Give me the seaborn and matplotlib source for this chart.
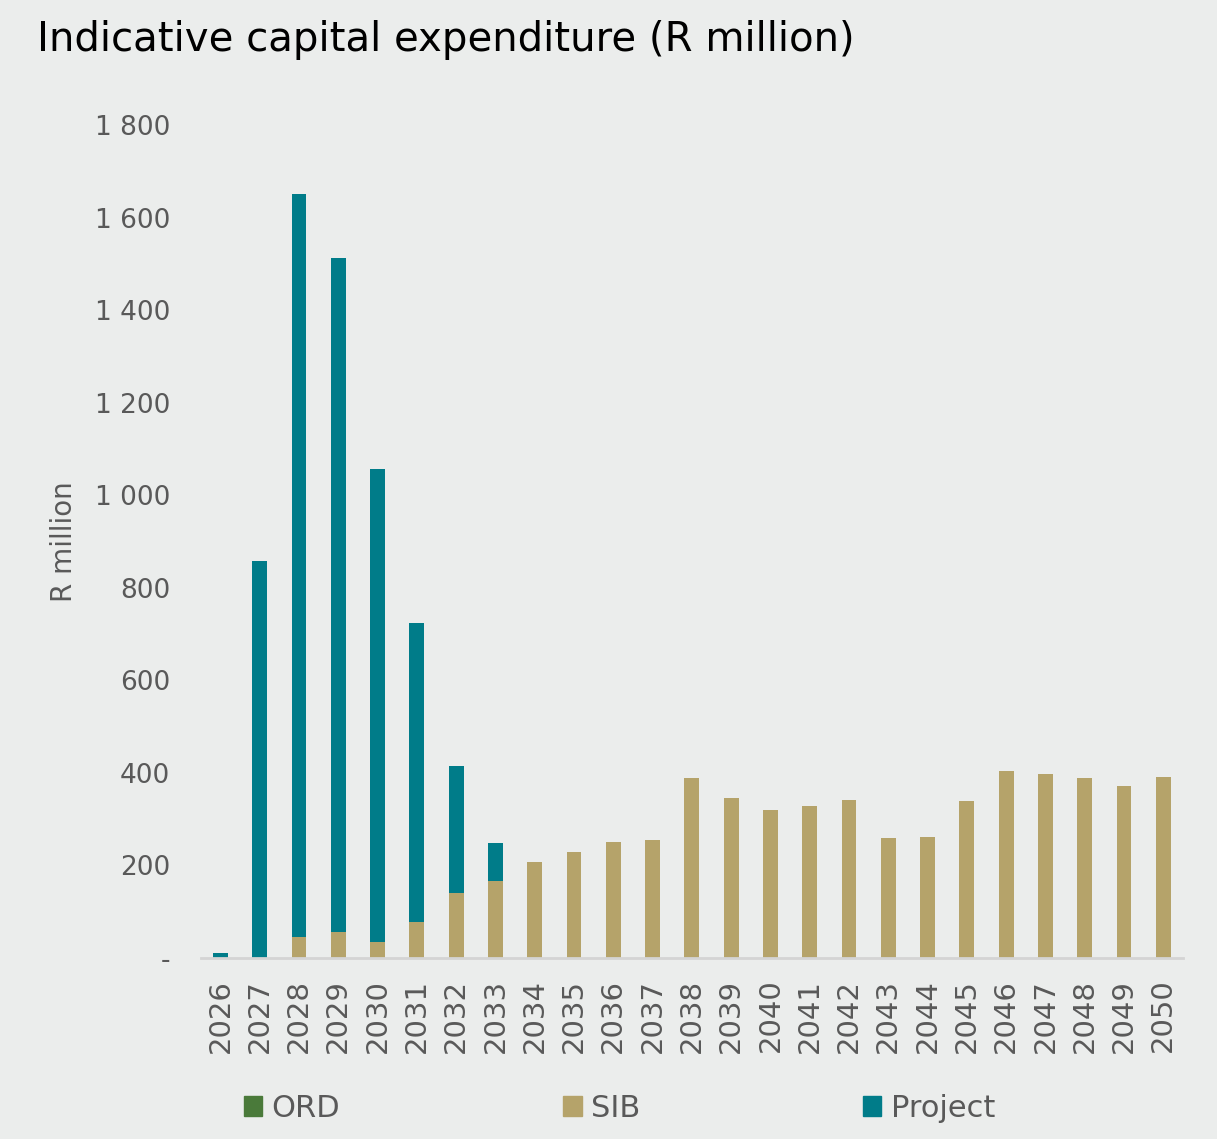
import matplotlib
matplotlib.use("Agg")
import matplotlib.pyplot as plt
import matplotlib.ticker as mticker
from matplotlib.patches import Patch
import numpy as np
import pandas as pd
import seaborn as sns

years = [str(y) for y in range(2026, 2051)]
ord_vals = [0] * 25
sib_vals = [0, 0, 45, 56, 34, 78, 140, 166, 207, 228, 250, 254, 388, 345, 319,
            328, 341, 259, 261, 340, 403, 397, 390, 371, 392]
project_vals = [10, 858, 1606, 1457, 1022, 646, 274, 82, 0, 0, 0, 0, 0, 0, 0,
                0, 0, 0, 0, 0, 0, 0, 0, 0, 0]

BG = "#ebedec"
TEAL = "#007c89"
TAN = "#b5a36a"
GREEN = "#4a7a3a"
GREY = "#595959"

sns.set_theme(style="white")
plt.rcParams["font.family"] = ["DejaVu Sans"]

df = pd.DataFrame({"year": years, "ORD": ord_vals, "SIB": sib_vals, "Project": project_vals})
df["top"] = df["ORD"] + df["SIB"] + df["Project"]
df["mid"] = df["ORD"] + df["SIB"]

fig = plt.figure(figsize=(12.17, 11.39), dpi=100, facecolor=BG)
ax = fig.add_axes([0.165, 0.159, 0.807, 0.731], facecolor=BG)

bar_kw = dict(width=0.38, saturation=1, linewidth=0, ax=ax)
sns.barplot(data=df, x="year", y="top", color=TEAL, **bar_kw)
sns.barplot(data=df, x="year", y="mid", color=TAN, **bar_kw)
sns.barplot(data=df, x="year", y="ORD", color=GREEN, **bar_kw)

ax.set_ylim(0, 1800)
ax.set_xlim(-0.5, len(years) - 0.5)
ax.yaxis.set_major_locator(mticker.MultipleLocator(200))
ax.yaxis.set_major_formatter(mticker.FuncFormatter(
    lambda v, p: "-" if v == 0 else f"{int(v):,}".replace(",", " ")))
for s in ["top", "right", "left"]:
    ax.spines[s].set_visible(False)
ax.spines["bottom"].set_color("#d4d4d4")
ax.spines["bottom"].set_linewidth(2)

ax.tick_params(axis="y", length=0, labelsize=19, labelcolor=GREY, pad=22)
ax.tick_params(axis="x", which="major", length=0, labelsize=21, labelcolor=GREY,
               rotation=90, pad=15)
ax.set_xticks(np.arange(-0.5, len(years), 1), minor=True)
ax.tick_params(axis="x", which="minor", length=11, width=1.5, color="#d4d4d4")

ax.set_xlabel("")
ax.set_ylabel("R million", fontsize=20, color=GREY, labelpad=12)

fig.text(0.03, 0.965, "Indicative capital expenditure (R million)", fontsize=29,
         color="black", va="center", ha="left")

handles = [Patch(color=GREEN, label="ORD"), Patch(color=TAN, label="SIB"),
           Patch(color=TEAL, label="Project")]
leg = fig.legend(handles=handles, loc="center", bbox_to_anchor=(0.509, 0.027), ncol=3,
                 frameon=False, fontsize=22, handlelength=0.6, handleheight=0.6,
                 handletextpad=0.3, columnspacing=7.3)
for t in leg.get_texts():
    t.set_color(GREY)

fig.savefig("out.png", dpi=100, facecolor=BG)
